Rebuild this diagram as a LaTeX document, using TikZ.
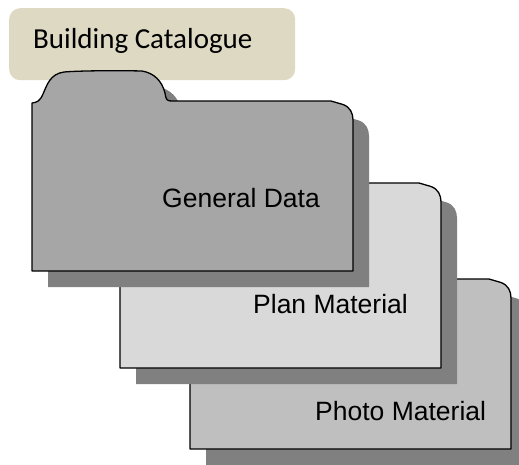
\documentclass[tikz,border=0pt]{standalone}
\usepackage{fontspec}
\setmainfont{Liberation Sans}
\newfontfamily\tagfont{Carlito}
\definecolor{tagfill}{HTML}{DDD9C3}
\definecolor{shadowgray}{HTML}{808080}
\definecolor{folderA}{HTML}{A6A6A6}
\definecolor{folderB}{HTML}{D9D9D9}
\definecolor{folderC}{HTML}{BFBFBF}
% #1 = height from the top edge to the bottom edge
\newcommand{\folderoutline}[1]{(0,2) .. controls (5,1.5) and (8,0) .. (11,-7)
  .. controls (15,-16) and (18,-27) .. (32,-29)
  .. controls (50,-30.5) and (90,-30.5) .. (110,-30)
  .. controls (122,-28) and (130,-20) .. (133,-8)
  .. controls (134,-1) and (135,0) .. (140,0)
  -- (299,0) -- (311,3.5) .. controls (318,6) and (321,12) .. (321,19)
  -- (321,#1) -- (0,#1) -- cycle}
\tikzset{
  x=1pt,y=-1pt,
  shadowshape/.style={fill=shadowgray,draw=none},
  foldershape/.style={draw=black,line width=1.3pt,line join=round},
  taglabel/.style={anchor=base west,font=\tagfont\fontsize{29}{29}\selectfont,text=black,inner sep=0pt},
  folderlabel/.style={anchor=base west,font=\fontsize{26.5}{26.5}\selectfont,text=black,inner sep=0pt},
}
\begin{document}
\begin{tikzpicture}
\useasboundingbox (0,0) rectangle (519,464);
\clip (0,0) rectangle (519,464);
\node[fill=tagfill,rounded corners=11pt,minimum width=286pt,minimum height=72pt,inner sep=0pt,anchor=north west] (tag) at (9,8) {};
\node[taglabel] (taglabel) at (33,48) {Building Catalogue};
% Photo Material
\fill[shadowshape,shift={(206,295)}] \folderoutline{170};
\draw[foldershape,fill=folderC,shift={(190,279)}] \folderoutline{170};
\node[folderlabel] (photo) at (315,420) {Photo Material};
% Plan Material
\fill[shadowshape,shift={(136,199)}] \folderoutline{185};
\draw[foldershape,fill=folderB,shift={(120,183)}] \folderoutline{185};
\node[folderlabel] (plan) at (253,313) {Plan Material};
% General Data
\fill[shadowshape,shift={(48,117)}] \folderoutline{170};
\draw[foldershape,fill=folderA,shift={(32,101)}] \folderoutline{170};
\node[folderlabel] (general) at (162,207) {General Data};
\end{tikzpicture}
\end{document}
